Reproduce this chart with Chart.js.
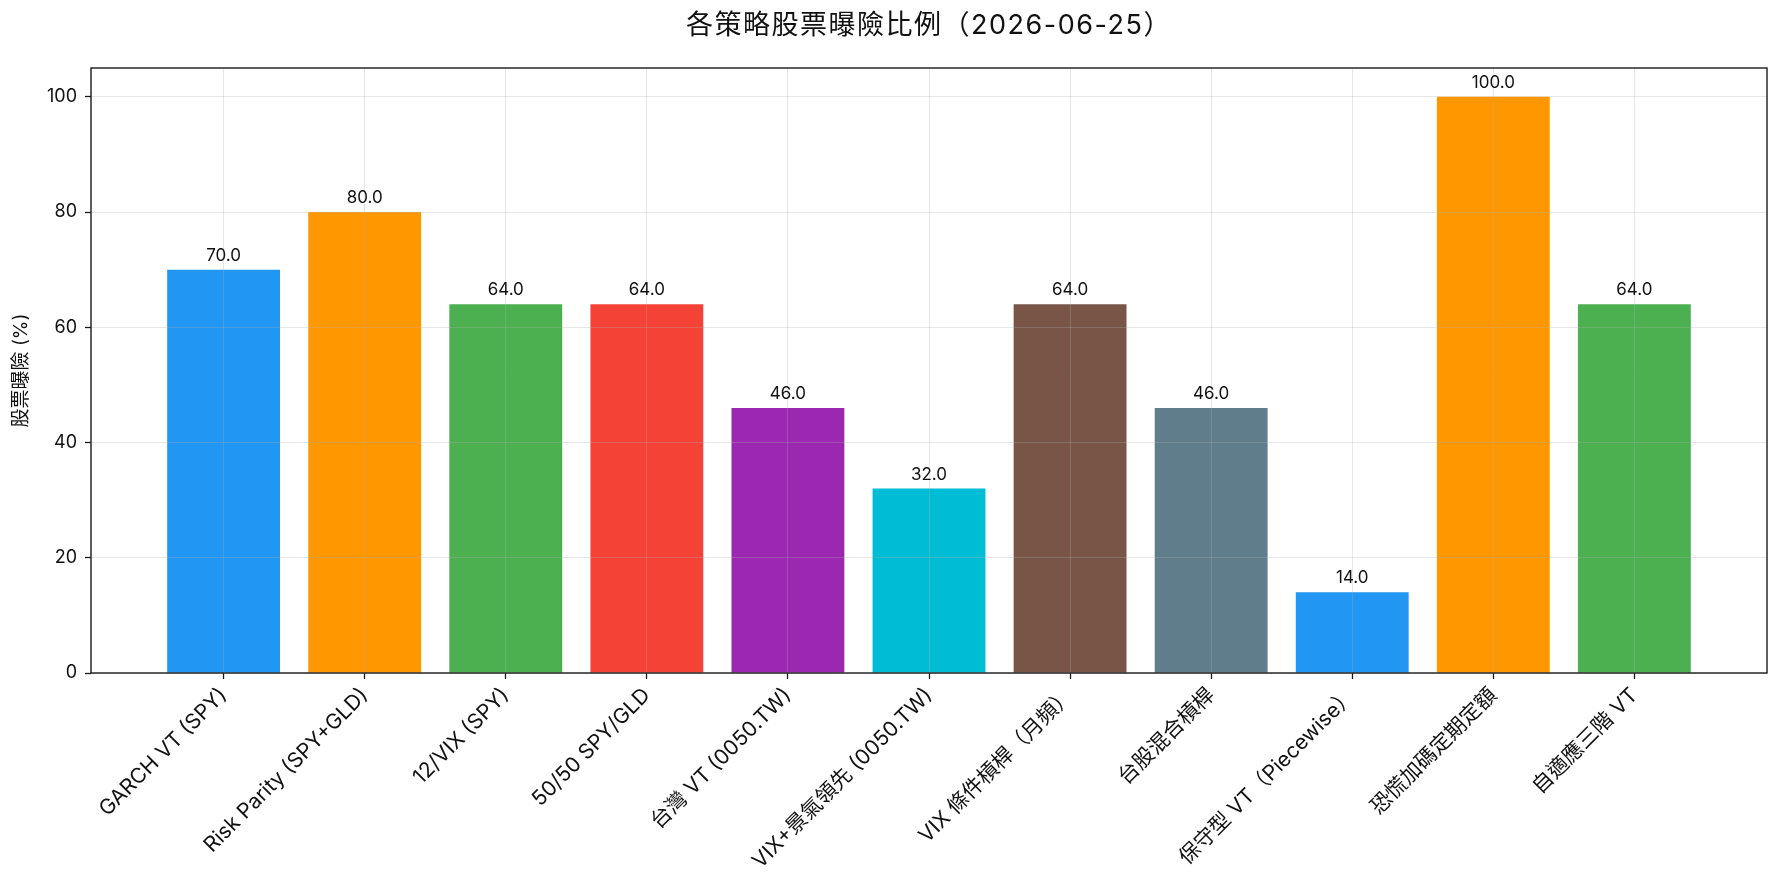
<!DOCTYPE html>
<html><head><meta charset="utf-8">
<script src="https://cdn.jsdelivr.net/npm/chart.js@4.4.1/dist/chart.umd.min.js"></script>
<style>html,body{margin:0;padding:0;background:#fff}#wrap{width:1782px;height:884px}</style>
</head><body><div id="wrap"><canvas id="c" width="1782" height="884"></canvas></div>
<script>
const categories = [
  "GARCH VT (SPY)", "Risk Parity (SPY+GLD)", "12/VIX (SPY)", "50/50 SPY/GLD",
  "台灣 VT (0050.TW)", "VIX+景氣領先 (0050.TW)", "VIX 條件槓桿（月頻）", "台股混合槓桿",
  "保守型 VT（Piecewise）", "恐慌加碼定期定額", "自適應三階 VT"
];
const exposure = [70.0, 80.0, 64.0, 64.0, 46.0, 32.0, 64.0, 46.0, 14.0, 100.0, 64.0];
const barColors = ["#2196F3", "#FF9800", "#4CAF50", "#F44336", "#9C27B0", "#00BCD4",
                   "#795548", "#607D8B", "#2196F3", "#FF9800", "#4CAF50"];
const yTicks = [0, 20, 40, 60, 80, 100];
const titleText = "各策略股票曝險比例（2026-06-25）";
const yTitle = "股票曝險 (%)";

const FONT = "Inter, 'Noto Sans CJK TC', sans-serif";

const framePlugin = {
  id: 'frame',
  afterDraw(chart) {
    const {ctx, chartArea: a} = chart;
    ctx.save();
    ctx.strokeStyle = '#1a1a1a';
    ctx.lineWidth = 1.4;
    ctx.strokeRect(a.left, a.top, a.right - a.left, a.bottom - a.top);
    // title centred over the axes
    ctx.fillStyle = '#111';
    ctx.font = "27px " + FONT;
    if ('letterSpacing' in ctx) ctx.letterSpacing = '1.5px';
    ctx.textAlign = 'center';
    ctx.textBaseline = 'middle';
    ctx.fillText(titleText, (a.left + a.right) / 2, 26);
    ctx.restore();
  }
};
const valueLabels = {
  id: 'valueLabels',
  afterDraw(chart) {
    const {ctx} = chart;
    const meta = chart.getDatasetMeta(0);
    ctx.save();
    ctx.fillStyle = '#111';
    ctx.font = "17px " + FONT;
    ctx.textAlign = 'center';
    ctx.textBaseline = 'alphabetic';
    meta.data.forEach((bar, i) => {
      ctx.fillText(exposure[i].toFixed(1), bar.x, bar.y - 9);
    });
    ctx.restore();
  }
};

new Chart(document.getElementById('c'), {
  type: 'bar',
  data: {
    datasets: [{
      data: categories.map((c, i) => ({x: i, y: exposure[i]})),
      backgroundColor: barColors,
      borderWidth: 0,
      barPercentage: 0.8,
      categoryPercentage: 1.0
    }]
  },
  options: {
    responsive: false,
    animation: false,
    devicePixelRatio: 1,
    layout: {padding: {left: 0, right: 15, top: 68, bottom: 0}},
    plugins: {
      legend: {display: false},
      tooltip: {enabled: false},
      title: {display: false}
    },
    scales: {
      x: {
        type: 'linear',
        min: -0.94,
        max: 10.94,
        offset: false,
        afterBuildTicks(scale) { scale.ticks = categories.map((c, i) => ({value: i})); },
        afterFit(scale) { scale.height = 211; },
        ticks: {
          autoSkip: false,
          maxRotation: 45,
          minRotation: 45,
          padding: 4,
          color: '#111',
          font: {family: FONT, size: 21},
          callback: (v) => categories[v]
        },
        grid: {
          offset: false,
          color: 'rgba(176,176,176,0.3)',
          lineWidth: 1,
          z: 1,
          drawTicks: true,
          tickLength: 6,
          tickColor: '#1a1a1a',
          tickWidth: 1.3
        },
        border: {display: false}
      },
      y: {
        min: 0,
        max: 105,
        afterBuildTicks(scale) { scale.ticks = yTicks.map(v => ({value: v})); },
        afterFit(scale) { scale.width = 91; },
        ticks: {
          padding: 8,
          color: '#111',
          font: {family: FONT, size: 18}
        },
        grid: {
          color: 'rgba(176,176,176,0.3)',
          lineWidth: 1,
          z: 1,
          drawTicks: true,
          tickLength: 6,
          tickColor: '#1a1a1a',
          tickWidth: 1.3
        },
        border: {display: false},
        title: {
          display: true,
          text: yTitle,
          color: '#111',
          font: {family: FONT, size: 19},
          padding: {top: 10, bottom: 0}
        }
      }
    }
  },
  plugins: [framePlugin, valueLabels]
});
</script>
</body></html>
